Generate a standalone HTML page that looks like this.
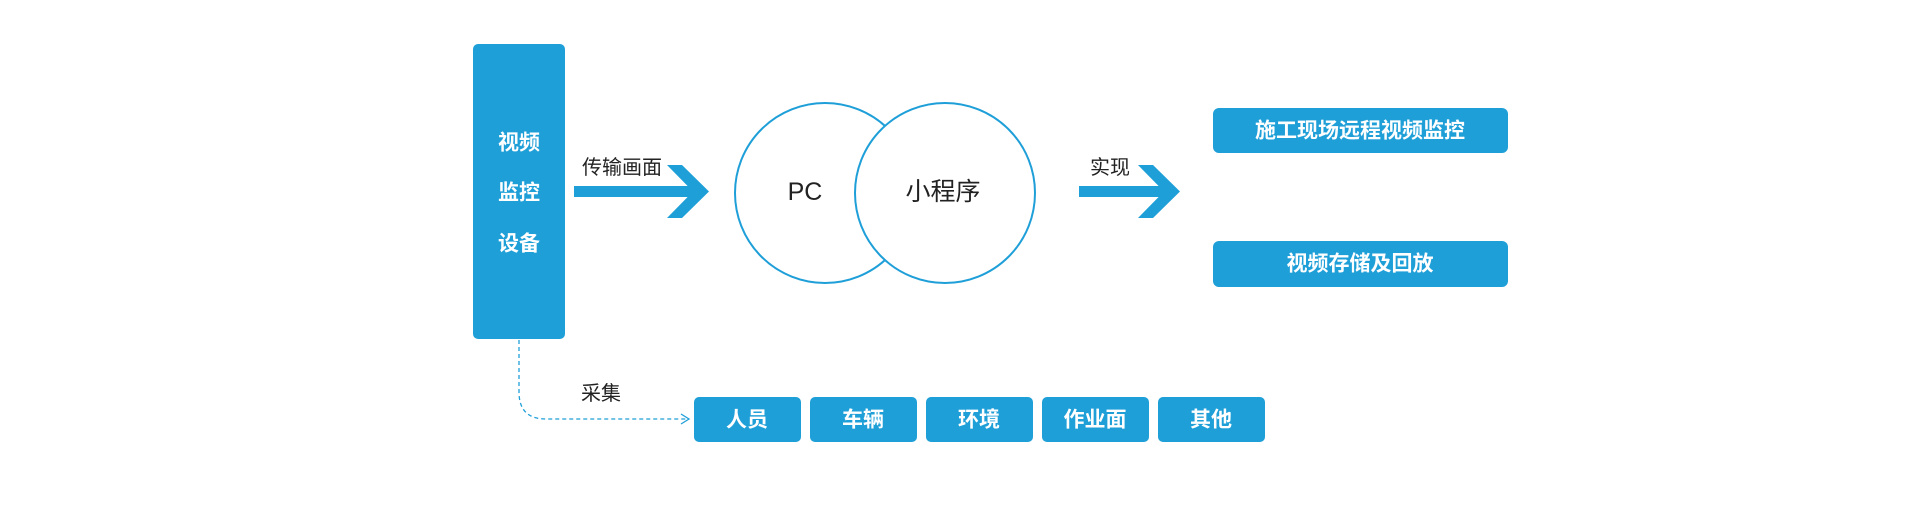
<!DOCTYPE html>
<html><head><meta charset="utf-8"><style>
body{margin:0;width:1920px;height:508px;background:#fff;overflow:hidden}
svg{display:block}
text{font-family:"Liberation Sans","Noto Sans CJK SC",sans-serif}
</style></head><body>
<svg width="1920" height="508" viewBox="0 0 1920 508">
<g fill="#1f9fd8">
<rect x="473" y="44" width="92" height="295" rx="5"/>
<rect x="1213" y="108" width="295" height="45" rx="6"/>
<rect x="1213" y="241" width="295" height="46" rx="6"/>
<rect x="694" y="397" width="107" height="45" rx="5"/>
<rect x="810" y="397" width="107" height="45" rx="5"/>
<rect x="926" y="397" width="107" height="45" rx="5"/>
<rect x="1042" y="397" width="107" height="45" rx="5"/>
<rect x="1158" y="397" width="107" height="45" rx="5"/>
<rect x="574" y="186" width="122" height="11"/>
<polygon points="667,165 682,165 709,191.5 682,218 667,218 693,191.5"/>
<rect x="1079" y="186" width="88" height="11"/>
<polygon points="1138,165 1153,165 1180,191.5 1153,218 1138,218 1164,191.5"/>
</g>
<ellipse cx="825" cy="193" rx="90" ry="90" fill="#fff" stroke="#1f9fd8" stroke-width="2"/>
<ellipse cx="945" cy="193" rx="90" ry="90" fill="#fff" stroke="#1f9fd8" stroke-width="2"/>
<path d="M519,340 L519,392 Q519,419 546,419 L688,419" fill="none" stroke="#1f9fd8" stroke-width="1.3" stroke-dasharray="4,3"/>
<path d="M681,414 L689,419 L681,424" fill="none" stroke="#1f9fd8" stroke-width="1.3"/>
<g fill="#fff" font-weight="bold" font-size="21" text-anchor="middle" dominant-baseline="central">
<text x="519" y="143">视频</text>
<text x="519" y="193">监控</text>
<text x="519" y="244">设备</text>
<text x="1360" y="131">施工现场远程视频监控</text>
<text x="1360" y="264">视频存储及回放</text>
<text x="747" y="420">人员</text>
<text x="863" y="420">车辆</text>
<text x="979" y="420">环境</text>
<text x="1095" y="420">作业面</text>
<text x="1211" y="420">其他</text>
</g>
<g fill="#222" font-size="20" text-anchor="middle" dominant-baseline="central">
<text x="622" y="168">传输画面</text>
<text x="1110" y="168">实现</text>
<text x="601" y="394">采集</text>
<text x="805" y="192" font-size="25">PC</text>
<text x="943" y="192" font-size="25">小程序</text>
</g>
</svg>
</body></html>
